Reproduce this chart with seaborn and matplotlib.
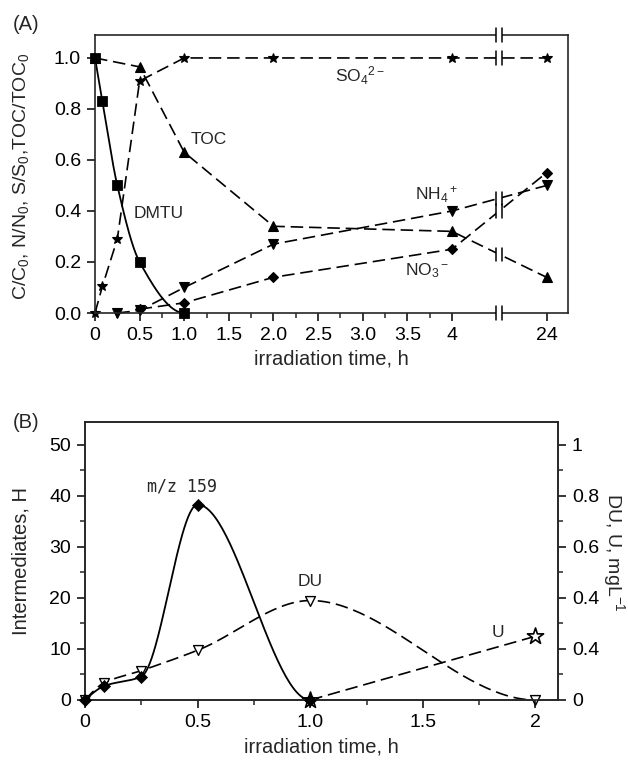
import numpy as np
import seaborn as sns
import matplotlib.pyplot as plt
from matplotlib.patches import Rectangle
from matplotlib.ticker import FixedLocator, MultipleLocator

# (A) normalised concentrations vs irradiation time (h), 24 h sits past an axis break
dmtu_t = [0, 0.083, 0.25, 0.5, 1.0]
dmtu = [1.0, 0.83, 0.5, 0.2, 0.0]
toc_t = [0, 0.5, 1.0, 2.0, 4.0, 24.0]
toc = [1.0, 0.965, 0.63, 0.34, 0.32, 0.14]
so4_t = [0, 0.083, 0.25, 0.5, 1.0, 2.0, 4.0, 24.0]
so4 = [0.0, 0.105, 0.29, 0.91, 1.0, 1.0, 1.0, 1.0]
nh4_t = [0.25, 0.5, 1.0, 2.0, 4.0, 24.0]
nh4 = [0.0, 0.01, 0.1, 0.27, 0.4, 0.5]
no3_t = [0.5, 1.0, 2.0, 4.0, 24.0]
no3 = [0.015, 0.04, 0.14, 0.25, 0.55]
a_ticks = [0, 0.5, 1.0, 1.5, 2.0, 2.5, 3.0, 3.5, 4.0, 24.0]
a_ticklabels = ['0', '0.5', '1.0', '1.5', '2.0', '2.5', '3.0', '3.5', '4', '24']

# (B) intermediates: m/z 159 in peak height (left), DU and U in mg/L (right)
mz_t = [0, 0.083, 0.25, 0.5, 1.0]
mz159 = [0, 2.7, 4.6, 38.3, 0]
du_t = [0, 0.083, 0.25, 0.5, 1.0, 2.0]
du = [0, 0.066, 0.115, 0.195, 0.39, 0]
u_t = [1.0, 2.0]
u = [0, 0.25]
b_ticks = [0, 0.5, 1.0, 1.5, 2.0]
b_ticklabels = ['0', '0.5', '1.0', '1.5', '2']
right_ticks = [0, 0.2, 0.4, 0.6, 0.8, 1.0]
right_ticklabels = ['0', '0.4', '0.4', '0.6', '0.8', '1']  # as printed in the original

BREAK = 4.53
LAST = 5.06


def brk(t):
    t = np.asarray(t, dtype=float)
    return np.where(t > 4, LAST, t)


def smooth(x, y, n=60):
    # monotone cubic hermite through the points, level at the last point
    x = np.asarray(x, float)
    y = np.asarray(y, float)
    h = np.diff(x)
    d = np.diff(y) / h
    m = np.zeros_like(y)
    for k in range(1, len(x) - 1):
        if d[k - 1] * d[k] > 0:
            w1 = 2 * h[k] + h[k - 1]
            w2 = h[k] + 2 * h[k - 1]
            m[k] = (w1 + w2) / (w1 / d[k - 1] + w2 / d[k])
    m0 = ((2 * h[0] + h[1]) * d[0] - h[0] * d[1]) / (h[0] + h[1])
    m[0] = m0 if m0 * d[0] > 0 else 0
    xs, ys = [], []
    for k in range(len(h)):
        s = np.linspace(0, 1, n)
        h00 = 2 * s**3 - 3 * s**2 + 1
        h10 = s**3 - 2 * s**2 + s
        h01 = -2 * s**3 + 3 * s**2
        h11 = s**3 - s**2
        xs.append(x[k] + s * h[k])
        ys.append(h00 * y[k] + h10 * h[k] * m[k] + h01 * y[k + 1] + h11 * h[k] * m[k + 1])
    return np.concatenate(xs), np.concatenate(ys)


def break_mark(ax, x, y, half, gap=0.035):
    ax.add_patch(Rectangle((x - gap, y - half * 0.45), 2 * gap, half * 0.9,
                           facecolor='white', edgecolor='none', zorder=6, clip_on=False))
    for dx in (-gap, gap):
        ax.plot([x + dx, x + dx], [y - half, y + half], color='k', lw=1.1,
                zorder=7, clip_on=False)


sns.set_style('ticks')
plt.rcParams['font.family'] = ['Liberation Sans', 'DejaVu Sans']
plt.rcParams['mathtext.default'] = 'regular'
plt.rcParams['axes.linewidth'] = 1.2

fig = plt.figure(figsize=(6.28, 7.61), dpi=100)
dash = (0, (7.5, 3.5))
tick_kw = dict(direction='out', width=1.1, labelsize=14, pad=4, colors='k')

# ---------------- panel A
axA = fig.add_axes([95 / 628, 1 - 313 / 761, 473 / 628, 278 / 761])
sx, sy = smooth(dmtu_t, dmtu)
sns.lineplot(x=sx, y=sy, ax=axA, color='k', lw=1.3, sort=False)
sns.scatterplot(x=dmtu_t, y=dmtu, ax=axA, marker='s', s=52, color='k',
                edgecolor='k', clip_on=False, zorder=4)
for t, v, m, ms in [(toc_t, toc, '^', 7.5), (so4_t, so4, '*', 7),
                    (nh4_t, nh4, 'v', 7.5), (no3_t, no3, 'D', 5.5)]:
    sns.lineplot(x=brk(t), y=v, ax=axA, color='k', lw=1.2, linestyle=dash,
                 marker=m, markersize=ms, markeredgecolor='k', markerfacecolor='k',
                 markeredgewidth=0.8, clip_on=False, sort=False)

axA.set_xlim(0, 5.3)
axA.set_ylim(0, 1.09)
axA.set_xticks(brk(a_ticks))
axA.set_xticklabels(a_ticklabels)
axA.xaxis.set_minor_locator(FixedLocator(np.arange(0.25, 4, 0.5)))
axA.set_yticks(np.arange(0, 1.01, 0.2))
axA.set_yticklabels(['%.1f' % v for v in np.arange(0, 1.01, 0.2)])
axA.tick_params(which='major', length=6, **tick_kw)
axA.tick_params(which='minor', length=3.5, width=1.1, direction='out')
axA.set_xlabel('irradiation time, h', fontsize=14.5)
axA.set_ylabel('C/C$_0$, N/N$_0$, S/S$_0$,TOC/TOC$_0$', fontsize=14)
axA.xaxis.set_label_coords(0.5, -0.13)
axA.yaxis.set_label_coords(-0.135, 0.49)

# axis break marks on the spines and on the lines crossing it
for yb in (0, 1.09):
    break_mark(axA, BREAK, yb, 0.026)
for t, v in [(toc_t, toc), (so4_t, so4), (nh4_t, nh4), (no3_t, no3)]:
    break_mark(axA, BREAK, np.interp(BREAK, brk(t), v), 0.026)

axA.text(2.97, 0.93, 'SO$_4$$^{2-}$', fontsize=12.5, ha='center', va='center')
axA.text(1.28, 0.68, 'TOC', fontsize=12.5, ha='center', va='center')
axA.text(0.71, 0.39, 'DMTU', fontsize=12.5, ha='center', va='center')
axA.text(3.83, 0.465, 'NH$_4$$^+$', fontsize=12.5, ha='center', va='center')
axA.text(3.72, 0.165, 'NO$_3$$^-$', fontsize=12.5, ha='center', va='center')
fig.text(26 / 628, 1 - 25 / 761, '(A)', fontsize=14.5, ha='center', va='center')

# ---------------- panel B
axB = fig.add_axes([85 / 628, 1 - 700 / 761, 473 / 628, 278 / 761])
ax2 = axB.twinx()
# keep the m/z 159 markers above the DU / U markers
axB.set_zorder(ax2.get_zorder() + 1)
axB.patch.set_visible(False)

mx, my = smooth(mz_t, mz159)
sns.lineplot(x=mx, y=my, ax=axB, color='k', lw=1.3, sort=False)
sns.scatterplot(x=mz_t, y=mz159, ax=axB, marker='D', s=38, color='k',
                edgecolor='k', clip_on=False, zorder=4)

dx_, dy_ = smooth(du_t, du)
sns.lineplot(x=dx_, y=dy_, ax=ax2, color='k', lw=1.2, linestyle=dash, sort=False)
sns.scatterplot(x=du_t, y=du, ax=ax2, marker='v', s=50, color='white',
                edgecolor='k', linewidth=1.0, clip_on=False, zorder=5)
sns.lineplot(x=u_t, y=u, ax=ax2, color='k', lw=1.2, linestyle=dash, sort=False)
sns.scatterplot(x=u_t, y=u, ax=ax2, marker='*', s=150, color='white',
                edgecolor='k', linewidth=1.2, clip_on=False, zorder=5)

axB.set_xlim(0, 2.1)
axB.set_ylim(0, 54.5)
ax2.set_ylim(0, 1.09)
axB.set_xticks(b_ticks)
axB.set_xticklabels(b_ticklabels)
axB.xaxis.set_minor_locator(FixedLocator([0.25, 0.75, 1.25, 1.75]))
axB.set_yticks(range(0, 51, 10))
axB.yaxis.set_minor_locator(MultipleLocator(5))
ax2.set_yticks(right_ticks)
ax2.set_yticklabels(right_ticklabels)
ax2.yaxis.set_minor_locator(MultipleLocator(0.1))
for ax in (axB, ax2):
    ax.tick_params(which='major', length=6, **tick_kw)
    ax.tick_params(which='minor', length=3.5, width=1.1, direction='out')

axB.set_xlabel('irradiation time, h', fontsize=14.5)
axB.xaxis.set_label_coords(0.5, -0.135)
axB.set_ylabel('Intermediates, H', fontsize=14.5)
axB.yaxis.set_label_coords(-0.115, 0.5)
ax2.set_ylabel('DU, U, mgL$^{-1}$', fontsize=14, rotation=270, va='bottom')
ax2.yaxis.set_label_coords(1.09, 0.53)

axB.text(0.43, 41.8, 'm/z 159', fontsize=12, family='DejaVu Sans Mono',
         ha='center', va='center')
axB.text(1.0, 23.2, 'DU', fontsize=12.5, ha='center', va='center')
axB.text(1.835, 13.3, 'U', fontsize=12.5, ha='center', va='center')
fig.text(26 / 628, 1 - 423 / 761, '(B)', fontsize=14.5, ha='center', va='center')

fig.savefig('out.png', dpi=100)
